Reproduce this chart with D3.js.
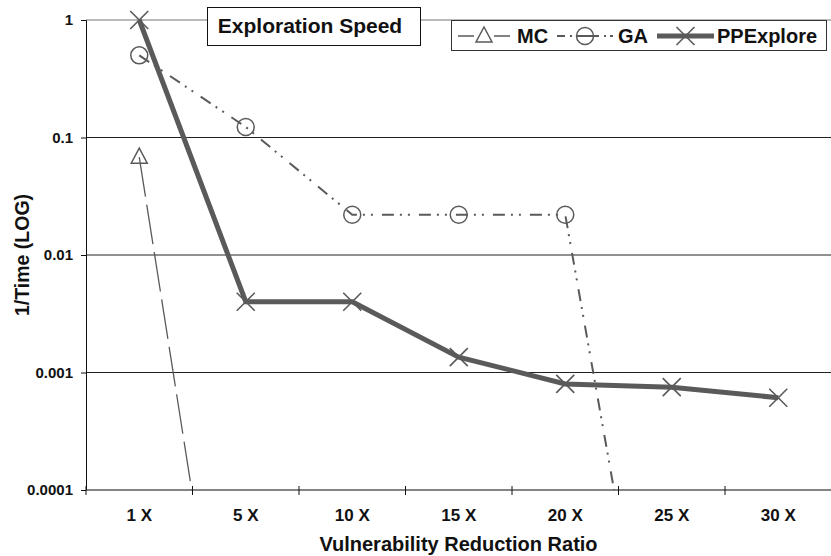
<!DOCTYPE html>
<html>
<head>
<meta charset="utf-8">
<script src="https://cdn.jsdelivr.net/npm/d3@7"></script>
<style>
  body { margin: 0; background: #fff; }
  text { font-family: "Liberation Sans", Arial, sans-serif; font-weight: bold; fill: #111; }
</style>
</head>
<body>
<div id="chart"></div>
<script>
const categories = ["1 X", "5 X", "10 X", "15 X", "20 X", "25 X", "30 X"];
const yTicks = [1, 0.1, 0.01, 0.001, 0.0001];
// values; the two drops run off the bottom of the log axis
const mcValues = [0.068, 1.2e-7, null, null, null, null, null];
const gaValues = [0.5, 0.123, 0.022, 0.022, 0.022, 1.7e-7, null];
const ppValues = [1, 0.004, 0.004, 0.00135, 0.0008, 0.00075, 0.00061];

const width = 831, height = 556;
const margin = { top: 20, right: 0, bottom: 66, left: 86 };

const svg = d3.select("#chart").append("svg")
  .attr("width", width)
  .attr("height", height);

const x = d3.scaleBand()
  .domain(categories)
  .range([margin.left, 831.5]);

const y = d3.scaleLog()
  .domain([0.0001, 1])
  .range([height - margin.bottom, margin.top]);

const cx = d => x(d) + x.bandwidth() / 2;

// grid lines
svg.append("g")
  .selectAll("line")
  .data(yTicks)
  .enter().append("line")
  .attr("x1", margin.left)
  .attr("x2", width)
  .attr("y1", d => y(d))
  .attr("y2", d => y(d))
  .attr("stroke", d => (d === 1 ? "#777" : "#222"))
  .attr("stroke-width", 1);

// Y axis
const yAxis = svg.append("g")
  .attr("transform", `translate(${margin.left},0)`)
  .call(d3.axisLeft(y).tickValues(yTicks).tickFormat(d => String(d)).tickSize(5).tickPadding(8));
yAxis.select(".domain").attr("stroke", "#111");
yAxis.selectAll(".tick line").attr("stroke", "#111");
yAxis.selectAll("text").style("font-size", "15px").attr("fill", "#111");

// X axis (labels centred, ticks at band edges)
const xAxis = svg.append("g")
  .attr("transform", `translate(0,${y(0.0001)})`)
  .call(d3.axisBottom(x).tickSize(0).tickPadding(19));
xAxis.select(".domain").attr("stroke", "#777").attr("d", `M${margin.left},0H${width}`);
xAxis.selectAll("text").style("font-size", "17px").attr("fill", "#111");

svg.append("g")
  .selectAll("line")
  .data(categories)
  .enter().append("line")
  .attr("x1", d => x(d))
  .attr("x2", d => x(d))
  .attr("y1", y(0.0001) - 4)
  .attr("y2", y(0.0001) + 5)
  .attr("stroke", "#111");

// axis titles
svg.append("text")
  .attr("x", (margin.left + width) / 2)
  .attr("y", 551)
  .attr("text-anchor", "middle")
  .style("font-size", "20px")
  .text("Vulnerability Reduction Ratio");

svg.append("text")
  .attr("transform", `translate(29,${(y(1) + y(0.0001)) / 2}) rotate(-90)`)
  .attr("text-anchor", "middle")
  .style("font-size", "19.5px")
  .text("1/Time (LOG)");

// series
svg.append("clipPath").attr("id", "plot")
  .append("rect")
  .attr("x", margin.left).attr("y", 0)
  .attr("width", width - margin.left).attr("height", y(0.0001));

const line = d3.line()
  .defined(d => d.v != null)
  .x(d => cx(d.c))
  .y(d => y(d.v));

const series = [
  { name: "MC", values: mcValues, width: 1.3, dash: "40,8", marker: "tri" },
  { name: "GA", values: gaValues, width: 2, dash: "12,6,2,6,2,9", marker: "circ" },
  { name: "PPExplore", values: ppValues, width: 5, dash: null, marker: "x" }
];

const lineColor = "#5a5a5a";

function drawMarker(g, kind, px, py) {
  if (kind === "tri") {
    g.append("path")
      .attr("d", `M${px},${py - 9}L${px + 8},${py + 6}L${px - 8},${py + 6}Z`)
      .attr("fill", "none").attr("stroke", lineColor).attr("stroke-width", 1.5);
  } else if (kind === "circ") {
    g.append("circle")
      .attr("cx", px).attr("cy", py).attr("r", 8.5)
      .attr("fill", "none").attr("stroke", lineColor).attr("stroke-width", 1.5);
  } else {
    g.append("path")
      .attr("d", `M${px - 9},${py - 9}L${px + 9},${py + 9}M${px - 9},${py + 9}L${px + 9},${py - 9}`)
      .attr("fill", "none").attr("stroke", lineColor).attr("stroke-width", 1.6);
  }
}

series.forEach(s => {
  const pts = categories.map((c, i) => ({ c: c, v: s.values[i] }));
  svg.append("path")
    .datum(pts)
    .attr("clip-path", "url(#plot)")
    .attr("fill", "none")
    .attr("stroke", lineColor)
    .attr("stroke-width", s.width)
    .attr("stroke-dasharray", s.dash)
    .attr("d", line);

  const g = svg.append("g");
  pts.filter(d => d.v != null && d.v >= 0.0001)
    .forEach(d => drawMarker(g, s.marker, cx(d.c), y(d.v)));
});

// title box
svg.append("rect")
  .attr("x", 207.5).attr("y", 7.5).attr("width", 213).attr("height", 38)
  .attr("fill", "#fff").attr("stroke", "#111");
svg.append("text")
  .attr("x", 310).attr("y", 33)
  .attr("text-anchor", "middle")
  .style("font-size", "21px")
  .text("Exploration Speed");

// legend
const legend = svg.append("g");
legend.append("rect")
  .attr("x", 451.5).attr("y", 20.5).attr("width", 375).attr("height", 30)
  .attr("fill", "#fff").attr("stroke", "#333");

const legendItems = [
  { s: series[0], x1: 458, x2: 510, text: 517 },
  { s: series[1], x1: 557, x2: 613, text: 618 },
  { s: series[2], x1: 657, x2: 714, text: 717 }
];
const ly = 36;
legendItems.forEach(it => {
  legend.append("line")
    .attr("x1", it.x1).attr("x2", it.x2).attr("y1", ly).attr("y2", ly)
    .attr("stroke", lineColor)
    .attr("stroke-width", it.s.width)
    .attr("stroke-dasharray", it.s.name === "MC" ? "16,20,16" : (it.s.name === "GA" ? "8,5,2,5,22,5,2,4" : null));
  drawMarker(legend, it.s.marker, (it.x1 + it.x2) / 2, ly);
  legend.append("text")
    .attr("x", it.text).attr("y", ly + 7)
    .style("font-size", "20px")
    .text(it.s.name);
});
</script>
</body>
</html>
